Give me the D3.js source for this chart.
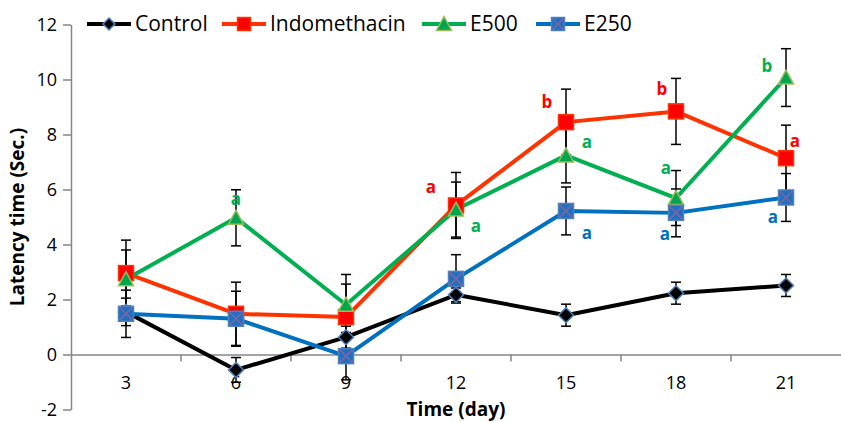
<!DOCTYPE html>
<html><head><meta charset="utf-8">
<script src="https://cdn.jsdelivr.net/npm/d3@7"></script>
<style>
body{margin:0;background:#fff;}
svg{display:block;font-family:"Open Sans",sans-serif;}
</style></head>
<body><svg id="c" width="841" height="422"></svg>
<script>
const days = ["3","6","9","12","15","18","21"];
const yTicks = [-2,0,2,4,6,8,10,12];
const controlVals = [1.55,-0.56,0.63,2.17,1.43,2.23,2.51];
const controlErr  = [0.5,0.45,0.4,0.25,0.4,0.4,0.4];
const indoVals = [2.96,1.48,1.36,5.42,8.45,8.84,7.14];
const indoErr  = [1.2,1.15,1.2,1.2,1.2,1.2,1.2];
const e500Vals = [2.74,4.97,1.81,5.27,7.24,5.69,10.07];
const e500Err  = [1.06,1.02,1.1,1.0,1.0,1.0,1.05];
const e250Vals = [1.48,1.30,-0.06,2.75,5.22,5.15,5.71];
const e250Err  = [0.86,1.0,0.86,0.88,0.87,0.87,0.87];
// significance letters: [series, dayIndex, letter, dx, dy]
const letters = [
  ["E500",1,"a",0,-19],
  ["Indomethacin",3,"a",-25,-18],["E500",3,"a",20,16],
  ["Indomethacin",4,"b",-19,-20],["E500",4,"a",21,-13],["E250",4,"a",21,22],
  ["Indomethacin",5,"b",-14,-22],["E500",5,"a",-10,-30],["E250",5,"a",-11,21],
  ["E500",6,"b",-19,-12],["Indomethacin",6,"a",9,-17],["E250",6,"a",-13,20]
];

const series = [
  {name:"Control", vals:controlVals, err:controlErr, line:"#000000", fill:"#000000", stroke:"#4F81BD", shape:"diamond", lc:"#000"},
  {name:"Indomethacin", vals:indoVals, err:indoErr, line:"#FF3300", fill:"#FF0000", stroke:"#FF3300", shape:"square", lc:"#FF0000"},
  {name:"E500", vals:e500Vals, err:e500Err, line:"#00B050", fill:"#00A550", stroke:"#9BBB59", shape:"triangle", lc:"#00B050"},
  {name:"E250", vals:e250Vals, err:e250Err, line:"#0070C0", fill:"#1F70C0", stroke:"#4F81BD", shape:"xsquare", lc:"#0070C0"}
];

const svg = d3.select("#c");
const x = d3.scaleBand().domain(days).range([71,841]).paddingInner(0).paddingOuter(0);
const cx = d => x(d) + x.bandwidth()/2;
const y = d3.scaleLinear().domain([-2,12]).range([409.5,24.5]);

// y axis
const ya = svg.append("g").attr("transform","translate(71,0)")
  .call(d3.axisLeft(y).tickValues(yTicks).tickFormat(d=>String(d)).tickSize(8).tickSizeOuter(0).tickPadding(6));
ya.select(".domain").attr("stroke","#868686").attr("stroke-width",1.5);
ya.selectAll(".tick line").attr("stroke","#868686").attr("stroke-width",1.5);
ya.selectAll(".tick text").attr("font-size",18).attr("fill","#000").attr("font-family","Open Sans");

// x axis at y=0
const xa = svg.append("g").attr("transform",`translate(0,${y(0)})`)
  .call(d3.axisBottom(x).tickSize(0).tickSizeOuter(0).tickPadding(22));
xa.select(".domain").attr("stroke","#868686").attr("stroke-width",1.5);
xa.selectAll(".tick text").attr("font-size",18).attr("fill","#000").attr("font-family","Open Sans");
xa.selectAll(".bt").data(days.slice(1)).enter().append("line")
  .attr("x1",d=>x(d)).attr("x2",d=>x(d)).attr("y1",0).attr("y2",7)
  .attr("stroke","#868686").attr("stroke-width",1.5);

// axis titles
svg.append("text").attr("x",456).attr("y",416).attr("text-anchor","middle")
  .attr("font-size",19).attr("font-weight","bold").text("Time (day)");
svg.append("text").attr("transform",`translate(24,${y(5)}) rotate(-90)`).attr("text-anchor","middle")
  .attr("font-size",19).attr("font-weight","bold").text("Latency time (Sec.)");

function marker(g, s, size){
  const h = size/2;
  if(s.shape==="diamond"){
    g.append("path").attr("d",`M0,${-h}L${h},0L0,${h}L${-h},0Z`).attr("fill",s.fill).attr("stroke",s.stroke).attr("stroke-width",1.5);
  } else if(s.shape==="square"){
    g.append("rect").attr("x",-h).attr("y",-h).attr("width",size).attr("height",size).attr("fill",s.fill).attr("stroke",s.stroke).attr("stroke-width",1.5);
  } else if(s.shape==="triangle"){
    g.append("path").attr("d",`M0,${-h-1}L${h+1},${h}L${-h-1},${h}Z`).attr("fill",s.fill).attr("stroke",s.stroke).attr("stroke-width",1.5);
  } else {
    g.append("rect").attr("x",-h).attr("y",-h).attr("width",size).attr("height",size).attr("fill",s.fill).attr("stroke",s.stroke).attr("stroke-width",1.5);
    g.append("path").attr("d",`M${-h+1},${-h+1}L${h-1},${h-1}M${h-1},${-h+1}L${-h+1},${h-1}`).attr("stroke","#8064A2").attr("stroke-width",1.5);
  }
}

const lineGen = d3.line().x((d,i)=>cx(days[i])).y(d=>y(d));
series.forEach(s=>{
  svg.append("path").attr("d",lineGen(s.vals)).attr("fill","none").attr("stroke",s.line).attr("stroke-width",4).attr("stroke-linejoin","round");
});
// error bars
series.forEach(s=>{
  const g = svg.append("g").attr("stroke","#000").attr("stroke-width",1.5);
  s.vals.forEach((v,i)=>{
    const px = cx(days[i]);
    g.append("line").attr("x1",px).attr("x2",px).attr("y1",y(v+s.err[i])).attr("y2",y(v-s.err[i]));
    [v+s.err[i], v-s.err[i]].forEach(e=>{
      g.append("line").attr("x1",px-5).attr("x2",px+5).attr("y1",y(e)).attr("y2",y(e));
    });
  });
});
// markers
series.forEach(s=>{
  const size = s.shape==="diamond"?15:(s.shape==="triangle"?13:15);
  s.vals.forEach((v,i)=>{
    const g = svg.append("g").attr("transform",`translate(${cx(days[i])},${y(v)})`);
    marker(g,s,size);
  });
});
// letters
letters.forEach(([nm,i,t,dx,dy])=>{
  const s = series.find(q=>q.name===nm);
  svg.append("text").attr("x",cx(days[i])+dx).attr("y",y(s.vals[i])+dy).attr("dy","0.35em")
    .attr("text-anchor","middle").attr("font-size",17).attr("font-weight","bold").attr("fill",s.lc).text(t);
});

// legend
const legX = [87,222,422,536];
series.forEach((s,k)=>{
  const g = svg.append("g").attr("transform",`translate(${legX[k]},24)`);
  g.append("line").attr("x1",0).attr("x2",44).attr("stroke",s.line).attr("stroke-width",4);
  const mg = g.append("g").attr("transform","translate(22,0)");
  marker(mg,s,s.shape==="diamond"?12:13);
  g.append("text").attr("x",48).attr("dy","0.35em").attr("font-size",21).attr("fill","#000").text(s.name);
});
</script></body></html>
